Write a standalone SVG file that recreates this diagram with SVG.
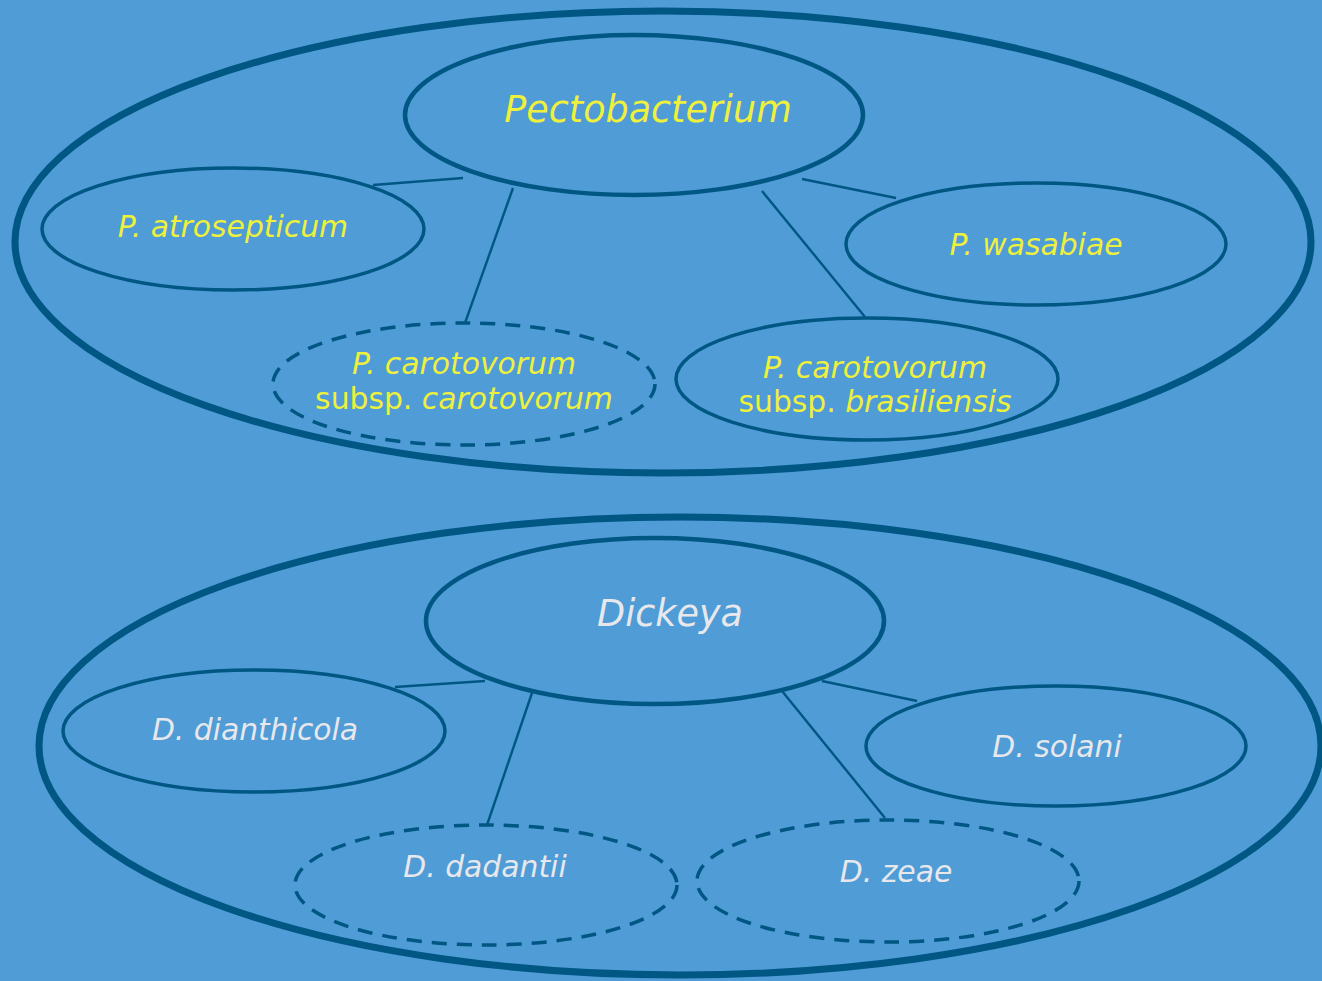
<svg xmlns="http://www.w3.org/2000/svg" width="1322" height="981" viewBox="0 0 1322 981">
<style>
.bg{fill:#4f9cd6}
.outer{fill:none;stroke:#005784;stroke-width:7}
.genus{fill:none;stroke:#005784;stroke-width:4.5}
.sp{fill:none;stroke:#005784;stroke-width:3.5}
.dash{stroke-dasharray:15 10}
.con line{stroke:#005784;stroke-width:2.4}
text{font-family:"DejaVu Sans","Verdana",sans-serif;font-style:italic;text-anchor:middle}
.y{fill:#eef03c}
.w{fill:#e8e8ec}
.n{font-style:normal}
</style>
<rect class="bg" x="0" y="0" width="1322" height="981"/>
<g id="pectobacterium-group">
<ellipse class="outer" cx="663" cy="242" rx="648" ry="231"/>
</g>
<g id="dickeya-group">
<ellipse class="outer" cx="680" cy="746" rx="641" ry="229"/>
</g>
<g id="connectors" class="con">
<line x1="373" y1="185" x2="463" y2="178"/>
<line x1="513" y1="188" x2="465" y2="323"/>
<line x1="762" y1="191" x2="865" y2="317"/>
<line x1="802" y1="179" x2="896" y2="198"/>
<line x1="395" y1="687" x2="485" y2="681"/>
<line x1="533" y1="690" x2="487" y2="825"/>
<line x1="782" y1="691" x2="885" y2="818"/>
<line x1="822" y1="681" x2="917" y2="701"/>
</g>
<g id="pectobacterium">
<ellipse class="genus" cx="634" cy="115" rx="229" ry="80"/>
<text class="y" x="648" y="122" font-size="36.5">Pectobacterium</text>
</g>
<g id="p-atrosepticum">
<ellipse class="sp" cx="233" cy="229" rx="191" ry="61"/>
<text class="y" x="233" y="237" font-size="29.8">P. atrosepticum</text>
</g>
<g id="p-wasabiae">
<ellipse class="sp" cx="1036" cy="244" rx="190" ry="61"/>
<text class="y" x="1036" y="255" font-size="29.8">P. wasabiae</text>
</g>
<g id="p-carotovorum-carotovorum">
<ellipse class="sp dash" cx="464" cy="384" rx="191" ry="61"/>
<text class="y" x="464" y="374" font-size="29.8">P. carotovorum</text>
<text class="y" x="464" y="409" font-size="29.8"><tspan class="n">subsp. </tspan>carotovorum</text>
</g>
<g id="p-carotovorum-brasiliensis">
<ellipse class="sp" cx="867" cy="379" rx="191" ry="61"/>
<text class="y" x="875" y="378" font-size="29.8">P. carotovorum</text>
<text class="y" x="875" y="412" font-size="29.8"><tspan class="n">subsp. </tspan>brasiliensis</text>
</g>
<g id="dickeya">
<ellipse class="genus" cx="655" cy="621" rx="229" ry="83"/>
<text class="w" x="670" y="626" font-size="36.5">Dickeya</text>
</g>
<g id="d-dianthicola">
<ellipse class="sp" cx="254" cy="731" rx="191" ry="61"/>
<text class="w" x="255" y="740" font-size="29.8">D. dianthicola</text>
</g>
<g id="d-solani">
<ellipse class="sp" cx="1056" cy="746" rx="190" ry="60"/>
<text class="w" x="1057" y="757" font-size="29.8">D. solani</text>
</g>
<g id="d-dadantii">
<ellipse class="sp dash" cx="486" cy="885" rx="191" ry="60"/>
<text class="w" x="485" y="877" font-size="29.8">D. dadantii</text>
</g>
<g id="d-zeae">
<ellipse class="sp dash" cx="888" cy="881" rx="191" ry="61"/>
<text class="w" x="896" y="882" font-size="29.8">D. zeae</text>
</g>
</svg>
